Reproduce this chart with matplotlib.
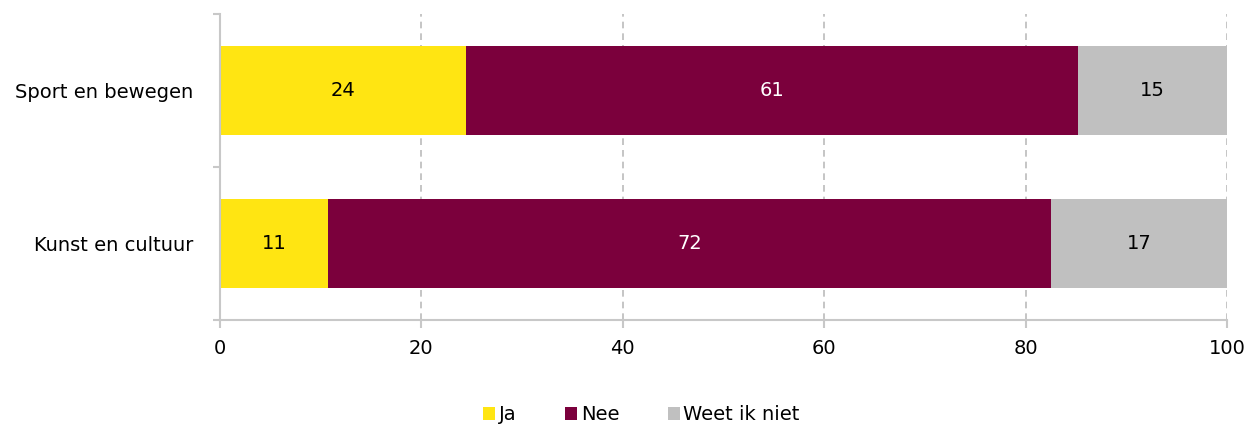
import matplotlib
matplotlib.use("Agg")
import matplotlib.pyplot as plt
import numpy as np

categories = ["Sport en bewegen", "Kunst en cultuur"]
series_names = ["Ja", "Nee", "Weet ik niet"]
ja = [24.4, 10.7]
nee = [60.8, 71.8]
weet = [14.8, 17.5]
labels_ja = ["24", "11"]
labels_nee = ["61", "72"]
labels_weet = ["15", "17"]
xticks = [0, 20, 40, 60, 80, 100]

colors = ["#FFE512", "#7B003C", "#C0C0C0"]
text_colors = ["#000000", "#FFFFFF", "#000000"]

plt.rcParams['font.family'] = ['DejaVu Sans']
fig = plt.figure(figsize=(12.58, 4.25), dpi=100)
ax = fig.add_axes([220/1258, 1-320/425, (1227-220)/1258, (320-14)/425])

y = np.arange(len(categories))
left = np.zeros(len(categories))
for vals, labs, name, c, tc in zip([ja, nee, weet], [labels_ja, labels_nee, labels_weet],
                                   series_names, colors, text_colors):
    ax.barh(y, vals, left=left, height=0.58, color=c, label=name, zorder=2)
    for yi, l, v, lab in zip(y, left, vals, labs):
        ax.text(l + v/2, yi, lab, ha="center", va="center", color=tc, fontsize=14, zorder=3)
    left = left + np.array(vals)

ax.set_ylim(1.5, -0.5)
ax.set_xlim(0, 100)
ax.set_xticks(xticks)
ax.set_xticklabels([str(t) for t in xticks], fontsize=14)
ax.set_yticks([-0.5, 0.5, 1.5])
ax.set_yticklabels([])
ax.set_yticks(y, minor=True)
ax.set_yticklabels(categories, minor=True, fontsize=14)
ax.tick_params(axis="y", which="minor", length=0, pad=19)
ax.tick_params(axis="y", which="major", length=5, color="#C8C8C8", width=1.5)
ax.tick_params(axis="x", length=6, color="#C8C8C8", width=1.5, pad=8)

for s in ["top", "right"]:
    ax.spines[s].set_visible(False)
for s in ["left", "bottom"]:
    ax.spines[s].set_color("#C8C8C8")
    ax.spines[s].set_linewidth(1.5)

ax.grid(axis="x", color="#BBBBBB", linestyle=(0, (4, 3)), linewidth=1.2, zorder=1)
ax.set_axisbelow(True)

fig.legend(loc="lower center", bbox_to_anchor=(0.51, -0.04), ncol=3, frameon=False,
           fontsize=14, handlelength=0.6, handleheight=0.6, handletextpad=0.2,
           columnspacing=2.5)

fig.savefig("out.png", dpi=100)
